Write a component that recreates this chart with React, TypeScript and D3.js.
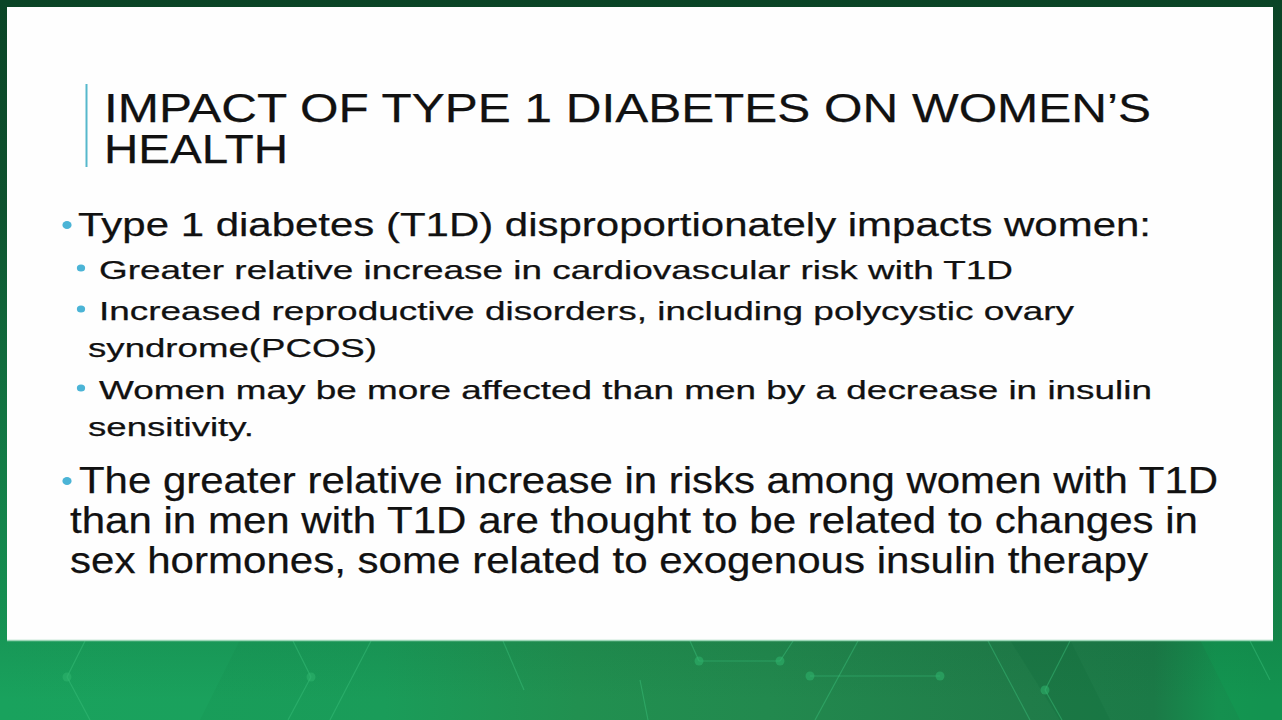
import React, { useEffect, useRef } from "react";
import * as d3 from "d3";

// Slide text
const titleLines = ["IMPACT OF TYPE 1 DIABETES ON WOMEN’S", "HEALTH"];
const leadBullet = ["Type 1 diabetes (T1D) disproportionately impacts women:"];
const subBullets = [
  ["Greater relative increase in cardiovascular risk with T1D"],
  ["Increased reproductive disorders, including polycystic ovary", "syndrome(PCOS)"],
  ["Women may be more affected than men by a decrease in insulin", "sensitivity."],
];
const closingBullet = [
  "The greater relative increase in risks among women with T1D",
  "than in men with T1D are thought to be related to changes in",
  "sex hormones, some related to exogenous insulin therapy",
];

// Layout (left, right edge, baseline) per rendered line
type Line = { text: string; x0: number; x1: number; y: number; size: number };

const W = 1282;
const H = 720;
const PANEL = { x0: 7, y0: 7, x1: 1273, y1: 640 };
const ACCENT = "#56b8cc";
const INK = "#111";

// decorative network in the green footer
const netSegments: [number, number, number, number][] = [
  [85, 641, 67, 677], [67, 677, 90, 720],
  [293, 641, 311, 677], [311, 677, 288, 720],
  [371, 641, 330, 720], [503, 641, 524, 690],
  [690, 641, 699, 661], [699, 661, 780, 661], [780, 661, 793, 641],
  [810, 676, 940, 676], [858, 641, 815, 720],
  [988, 641, 1030, 720], [1070, 641, 1045, 690], [1045, 690, 1062, 720],
  [640, 680, 648, 720], [1250, 641, 1270, 680],
];
const netNodes: [number, number][] = [
  [67, 677], [311, 677], [699, 661], [780, 661], [810, 676], [940, 676], [1045, 690],
];

function buildLines(): { lines: Line[]; dots: { x: number; y: number; r: number }[] } {
  const lines: Line[] = [];
  const dots: { x: number; y: number; r: number }[] = [];

  // title
  lines.push({ text: titleLines[0], x0: 104, x1: 1151, y: 122, size: 40 });
  lines.push({ text: titleLines[1], x0: 104, x1: 288, y: 163, size: 40 });

  // first main bullet
  lines.push({ text: leadBullet[0], x0: 78, x1: 1151, y: 236, size: 34 });
  dots.push({ x: 67, y: 225, r: 4 });

  // sub bullets
  const subLayout = [
    { y: [279], x1: [1013] },
    { y: [320, 357], x1: [1074, 377] },
    { y: [399, 436], x1: [1152, 254] },
  ];
  subBullets.forEach((b, i) => {
    const L = subLayout[i];
    dots.push({ x: 81, y: L.y[0] - 11, r: 3.6 });
    b.forEach((t, j) => {
      lines.push({ text: t, x0: j === 0 ? 99 : 88, x1: L.x1[j], y: L.y[j], size: 26 });
    });
  });

  // closing main bullet
  const closeY = [493, 533, 573];
  const closeX0 = [79, 70, 70];
  const closeX1 = [1218, 1198, 1148];
  dots.push({ x: 67, y: 481, r: 4 });
  closingBullet.forEach((t, j) => {
    lines.push({ text: t, x0: closeX0[j], x1: closeX1[j], y: closeY[j], size: 37 });
  });
  return { lines, dots };
}

export default function App() {
  const ref = useRef<SVGSVGElement>(null);

  useEffect(() => {
    document.body.style.margin = "0";
    if (!ref.current) return;
    const svg = d3.select(ref.current);
    svg.selectAll("*").remove();

    const defs = svg.append("defs");
    const foot = defs.append("linearGradient").attr("id", "foot").attr("x1", 0).attr("x2", 1).attr("y1", 0).attr("y2", 0);
    [
      [0, "#179e5a"], [0.3, "#1a9c59"], [0.45, "#219050"], [0.6, "#22894e"],
      [0.8, "#207c49"], [0.9, "#1b7a47"], [0.95, "#15904f"], [1, "#148c4d"],
    ].forEach(([o, c]) => foot.append("stop").attr("offset", o as number).attr("stop-color", c as string));

    const shade = defs.append("linearGradient").attr("id", "shade").attr("x1", 0).attr("x2", 0).attr("y1", 0).attr("y2", 1);
    shade.append("stop").attr("offset", 0).attr("stop-color", "#0a4426").attr("stop-opacity", 1);
    shade.append("stop").attr("offset", 0.3).attr("stop-color", "#0d4a2a").attr("stop-opacity", 0.9);
    shade.append("stop").attr("offset", 0.88).attr("stop-color", "#0f5a33").attr("stop-opacity", 0.2);
    shade.append("stop").attr("offset", 1).attr("stop-color", "#0f5a33").attr("stop-opacity", 0);

    svg.append("rect").attr("width", W).attr("height", H).attr("fill", "url(#foot)");
    // diagonal light bands
    svg.append("polygon").attr("points", "0,720 0,640 240,640 200,720").attr("fill", "#1fb066").attr("opacity", 0.25);
    svg.append("polygon").attr("points", "1200,640 1282,640 1282,720 1240,720").attr("fill", "#10a055").attr("opacity", 0.35);
    svg.append("polygon").attr("points", "1010,640 1070,640 1110,720 1060,720").attr("fill", "#136f3e").attr("opacity", 0.35);
    svg.append("rect").attr("width", W).attr("height", 700).attr("fill", "url(#shade)");

    const net = svg.append("g");
    net.selectAll("line").data(netSegments).join("line")
      .attr("x1", (d) => d[0]).attr("y1", (d) => d[1]).attr("x2", (d) => d[2]).attr("y2", (d) => d[3])
      .attr("stroke", "#3cc07c").attr("stroke-opacity", 0.45).attr("stroke-width", 1.2);
    net.selectAll("circle").data(netNodes).join("circle")
      .attr("cx", (d) => d[0]).attr("cy", (d) => d[1]).attr("r", 4.5)
      .attr("fill", "#2fb56e").attr("opacity", 0.55);

    // white slide panel
    svg.append("rect")
      .attr("x", PANEL.x0).attr("y", PANEL.y0)
      .attr("width", PANEL.x1 - PANEL.x0).attr("height", PANEL.y1 - PANEL.y0)
      .attr("fill", "#fefefe");
    svg.append("line")
      .attr("x1", PANEL.x0).attr("x2", PANEL.x1).attr("y1", PANEL.y1 + 0.5).attr("y2", PANEL.y1 + 0.5)
      .attr("stroke", "#9bd5b6").attr("stroke-width", 1.5);

    // title accent bar
    svg.append("line").attr("x1", 86.5).attr("x2", 86.5).attr("y1", 84).attr("y2", 167)
      .attr("stroke", ACCENT).attr("stroke-width", 2);

    const { lines, dots } = buildLines();

    svg.append("g").selectAll("ellipse").data(dots).join("ellipse")
      .attr("cx", (d) => d.x).attr("cy", (d) => d.y)
      .attr("rx", (d) => d.r * 1.15).attr("ry", (d) => d.r)
      .attr("fill", "#4bb4d6");

    svg.append("g").selectAll("text").data(lines).join("text")
      .attr("x", (d) => d.x0).attr("y", (d) => d.y)
      .attr("font-size", (d) => d.size)
      .attr("font-family", "'Liberation Sans', Arial, sans-serif")
      .attr("fill", INK)
      .attr("stroke", INK).attr("stroke-width", 0.25)
      .attr("textLength", (d) => d.x1 - d.x0)
      .attr("lengthAdjust", "spacingAndGlyphs")
      .text((d) => d.text);
  }, []);

  return <svg ref={ref} width={W} height={H} style={{ display: "block" }} />;
}
